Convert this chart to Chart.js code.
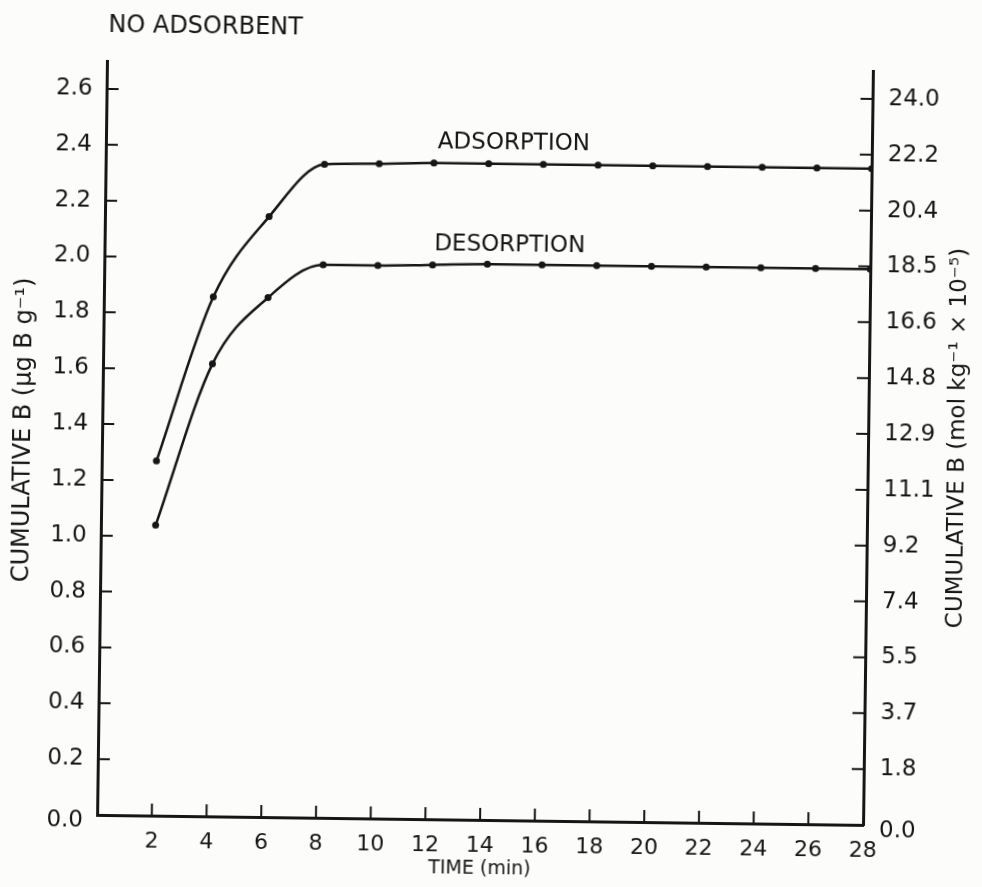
<!DOCTYPE html>
<html>
<head>
<meta charset="utf-8">
<script src="https://cdn.jsdelivr.net/npm/chart.js@4.4.1/dist/chart.umd.min.js"></script>
<style>
  html, body { margin: 0; padding: 0; background: #fcfcfa; overflow: hidden; }
  #wrap { width: 982px; height: 887px; position: relative; }
  #c { transform: rotate(0.75deg); transform-origin: 491px 443px; }
</style>
</head>
<body>
<div id="wrap"><canvas id="c" width="982" height="887"></canvas></div>
<script>
// ---- data ----
const timeMin = [2, 4, 6, 8, 10, 12, 14, 16, 18, 20, 22, 24, 26, 28];
const adsorption = [1.27, 1.86, 2.15, 2.34, 2.345, 2.35, 2.35, 2.35, 2.35, 2.35, 2.35, 2.35, 2.35, 2.35];
const desorption = [1.04, 1.62, 1.86, 1.98, 1.98, 1.985, 1.99, 1.99, 1.99, 1.99, 1.99, 1.99, 1.99, 1.99];
const leftTickValues = [0, 0.2, 0.4, 0.6, 0.8, 1.0, 1.2, 1.4, 1.6, 1.8, 2.0, 2.2, 2.4, 2.6];
const leftTickLabels = ['0.0', '0.2', '0.4', '0.6', '0.8', '1.0', '1.2', '1.4', '1.6', '1.8', '2.0', '2.2', '2.4', '2.6'];
const rightTickLabels = ['0.0', '1.8', '3.7', '5.5', '7.4', '9.2', '11.1', '12.9', '14.8', '16.6', '18.5', '20.4', '22.2', '24.0'];
const timeTickValues = [0, 2, 4, 6, 8, 10, 12, 14, 16, 18, 20, 22, 24, 26, 28];
const seriesNames = ['ADSORPTION', 'DESORPTION'];
const chartTitle = 'NO ADSORBENT';
const xTitle = 'TIME (min)';
const yLeftTitle = 'CUMULATIVE B (\u03BCg B g\u207B\u00B9)';
const yRightTitle = 'CUMULATIVE B (mol kg\u207B\u00B9 \u00D7 10\u207B\u2075)';

const INK = '#161616';
const FONT = '"DejaVu Sans", sans-serif';

const inwardTicks = {
  id: 'inwardTicks',
  afterDraw(chart) {
    const { ctx, chartArea: a, scales } = chart;
    ctx.save();
    ctx.strokeStyle = INK;
    ctx.lineWidth = 2;
    ctx.beginPath();
    scales.x.ticks.forEach(t => {
      if (t.value > 0 && t.value < 28) {
        const px = scales.x.getPixelForValue(t.value);
        ctx.moveTo(px, a.bottom);
        ctx.lineTo(px, a.bottom - 12);
      }
    });
    scales.y.ticks.forEach(t => {
      if (t.value > 0) {
        const py = scales.y.getPixelForValue(t.value);
        ctx.moveTo(a.left, py);
        ctx.lineTo(a.left + 12, py);
      }
    });
    scales.y2.ticks.forEach(t => {
      if (t.value > 0) {
        const py = scales.y2.getPixelForValue(t.value);
        ctx.moveTo(a.right, py);
        ctx.lineTo(a.right - 12, py);
      }
    });
    ctx.stroke();

    ctx.fillStyle = INK;
    ctx.textBaseline = 'middle';
    ctx.textAlign = 'left';
    ctx.font = '23px ' + FONT;
    ctx.fillText(seriesNames[0], scales.x.getPixelForValue(12.13), scales.y.getPixelForValue(2.425));
    ctx.fillText(seriesNames[1], scales.x.getPixelForValue(12.05), scales.y.getPixelForValue(2.06));
    ctx.font = '24px ' + FONT;
    ctx.fillText(chartTitle, 103, 31);

    // axis titles, both reading bottom-to-top as in the reference
    ctx.textAlign = 'center';
    ctx.save();
    ctx.translate(24, 436);
    ctx.rotate(-Math.PI / 2);
    ctx.font = '24px ' + FONT;
    ctx.fillText(yLeftTitle, 0, 0);
    ctx.restore();
    ctx.save();
    ctx.translate(958, 432);
    ctx.rotate(-Math.PI / 2);
    ctx.font = '23px ' + FONT;
    ctx.fillText(yRightTitle, 0, 0);
    ctx.restore();
    ctx.restore();
  }
};

const mk = (vals) => timeMin.map((t, i) => ({ x: t, y: vals[i] }));
// the 0.0 labels sit just below the corner in the reference
const yLabel = (labels) => (v, i) => (i === 0 ? ['', labels[i]] : labels[i]);

new Chart(document.getElementById('c'), {
  type: 'line',
  data: {
    datasets: [
      { label: seriesNames[0], data: mk(adsorption) },
      { label: seriesNames[1], data: mk(desorption) }
    ]
  },
  options: {
    responsive: false,
    animation: false,
    events: [],
    layout: { padding: { left: 0, right: 0, top: 66, bottom: 0 } },
    elements: {
      line: { borderColor: INK, borderWidth: 2.5, cubicInterpolationMode: 'monotone', fill: false },
      point: { radius: 3.5, backgroundColor: INK, borderColor: INK, borderWidth: 0 }
    },
    plugins: { legend: { display: false }, tooltip: { enabled: false }, title: { display: false } },
    scales: {
      x: {
        type: 'linear', min: 0, max: 28,
        afterBuildTicks: s => { s.ticks = timeTickValues.map(v => ({ value: v })); },
        afterFit: s => { s.height = 67; },
        grid: { display: false, drawTicks: false },
        border: { display: true, color: INK, width: 3 },
        ticks: {
          color: INK, font: { family: FONT, size: 22 }, padding: 13, maxRotation: 0, autoSkip: false,
          callback: v => (v === 0 ? '' : String(v))
        },
        title: { display: true, text: xTitle, color: INK, font: { family: FONT, size: 19 }, padding: { top: 0, bottom: 7 } }
      },
      y: {
        type: 'linear', position: 'left', min: 0, max: 2.7,
        afterBuildTicks: s => { s.ticks = leftTickValues.map(v => ({ value: v })); },
        afterFit: s => { s.width = 102; },
        grid: { display: false, drawTicks: false },
        border: { display: true, color: INK, width: 3 },
        ticks: {
          color: INK, font: { family: FONT, size: 23, lineHeight: 0.55 }, padding: 14, autoSkip: false,
          callback: yLabel(leftTickLabels)
        },
        title: { display: false }
      },
      y2: {
        type: 'linear', position: 'right', min: 0, max: 2.7,
        afterBuildTicks: s => { s.ticks = leftTickValues.map(v => ({ value: v })); },
        afterFit: s => { s.width = 114; },
        grid: { display: false, drawTicks: false },
        border: { display: true, color: INK, width: 3 },
        ticks: {
          color: INK, font: { family: FONT, size: 23, lineHeight: 0.55 }, padding: 16, autoSkip: false,
          callback: yLabel(rightTickLabels)
        },
        title: { display: false }
      }
    }
  },
  plugins: [inwardTicks]
});
</script>
</body>
</html>
